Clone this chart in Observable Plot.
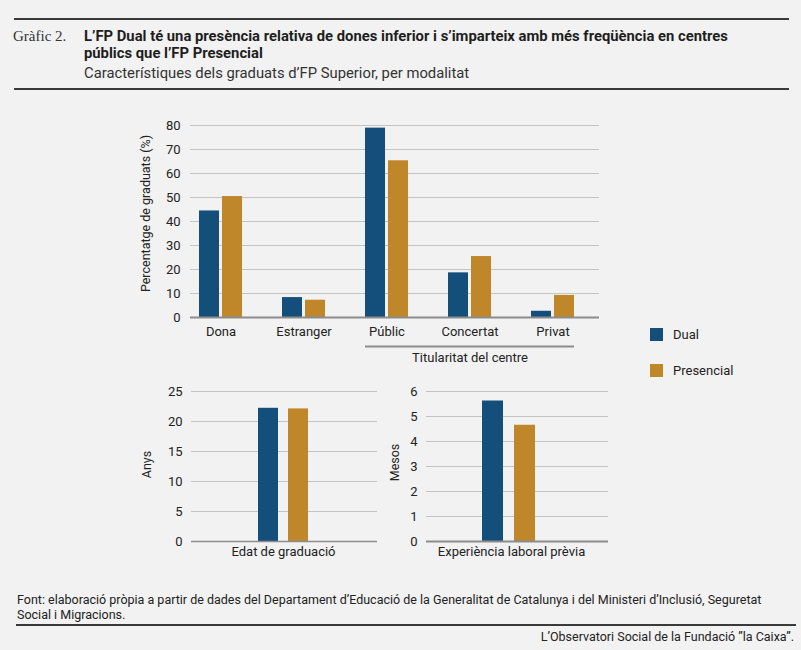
<!DOCTYPE html>
<html><head><meta charset="utf-8">
<script src="https://cdn.jsdelivr.net/npm/d3@7"></script>
<script src="https://cdn.jsdelivr.net/npm/@observablehq/plot@0.6"></script>
<style>
body{margin:0;background:#f2f2f2;}
#root{position:relative;width:801px;height:650px;background:#f2f2f2;font-family:Roboto,"Liberation Sans",sans-serif;color:#222;overflow:hidden}
.abs{position:absolute;white-space:nowrap}
.rule{position:absolute;height:2px;background:#3a3a3a}
svg{overflow:visible}
</style></head><body>
<div id="root">
 <div class="rule" style="left:14px;top:18px;width:775px"></div>
 <div class="abs" style="left:13px;top:28px;line-height:17px;font-family:'Liberation Serif',serif;font-size:15px;color:#333">Gràfic 2.</div>
 <div class="abs" id="title" style="left:84px;top:28px;line-height:16.5px;font-size:14.8px;font-weight:bold;color:#1e1e1e"></div>
 <div class="abs" id="subtitle" style="left:84px;top:64px;line-height:18px;font-size:14.8px;color:#333"></div>
 <div class="rule" style="left:14px;top:88px;width:775px"></div>
 <div id="top" class="abs" style="left:0;top:110px"></div>
 <div id="bl" class="abs" style="left:0;top:370px"></div>
 <div id="br" class="abs" style="left:380px;top:370px"></div>
 <div id="legend"></div>
 <div class="abs" id="source" style="left:17px;top:592px;line-height:15px;font-size:12.5px;color:#222"></div>
 <div class="rule" style="left:16px;top:624px;width:780px"></div>
 <div class="abs" id="credit" style="right:7px;top:629px;line-height:16px;font-size:12.5px;color:#222"></div>
</div>
<script>
// ---- Text ----
const titleLines = ["L’FP Dual té una presència relativa de dones inferior i s’imparteix amb més freqüència en centres", "públics que l’FP Presencial"];
const subtitle = "Característiques dels graduats d’FP Superior, per modalitat";
const sourceLines = ["Font: elaboració pròpia a partir de dades del Departament d’Educació de la Generalitat de Catalunya i del Ministeri d’Inclusió, Seguretat", "Social i Migracions."];
const credit = "L’Observatori Social de la Fundació ”la Caixa”.";

// ---- Data ----
const modalities = ["Dual", "Presencial"];
const modalityColors = ["#134f7a", "#c0862a"];

const topCategories = ["Dona", "Estranger", "Públic", "Concertat", "Privat"];
const topDual = [44.4, 8.3, 78.9, 18.6, 2.6];
const topPresencial = [50.4, 7.2, 65.3, 25.4, 9.2];
const topTicks = [0, 10, 20, 30, 40, 50, 60, 70, 80];
const topYLabel = "Percentatge de graduats (%)";
const topGroups = [{label: "Titularitat del centre", from: "Públic", to: "Privat", mid: "Concertat"}];

const ageValues = [22.2, 22.1];
const ageTicks = [0, 5, 10, 15, 20, 25];
const ageYLabel = "Anys";
const ageXLabel = "Edat de graduació";

const expValues = [5.62, 4.65];
const expTicks = [0, 1, 2, 3, 4, 5, 6];
const expYLabel = "Mesos";
const expXLabel = "Experiència laboral prèvia";

// ---- Header / footer ----
document.getElementById("title").innerHTML = titleLines.join("<br>");
document.getElementById("subtitle").textContent = subtitle;
document.getElementById("source").innerHTML = sourceLines.join("<br>");
document.getElementById("credit").textContent = credit;

const font = "Roboto, 'Liberation Sans', sans-serif";
const gridColor = "#c4c4c4";
const baseColor = "#8c8c8c";
const intFormat = d3.format("d");

// ---- Top chart ----
const topData = [];
topCategories.forEach((c, i) => {
  topData.push({cat: c, mod: modalities[0], value: topDual[i]});
  topData.push({cat: c, mod: modalities[1], value: topPresencial[i]});
});

const topChart = Plot.plot({
  width: 620, height: 260,
  marginLeft: 190, marginRight: 21, marginTop: 15, marginBottom: 53,
  style: {background: "transparent", fontFamily: font, fontSize: "13px", color: "#222"},
  x: {domain: topCategories, range: [197, 577], paddingInner: 0.476, paddingOuter: 0, axis: null},
  y: {domain: [0, 80], axis: null},
  color: {domain: modalities, range: modalityColors},
  marks: [
    Plot.gridY({ticks: topTicks, stroke: gridColor, strokeOpacity: 1}),
    Plot.barY(topData.filter(d => d.mod === modalities[0]), {x: "cat", y: "value", fill: "mod", insetRight: 23}),
    Plot.barY(topData.filter(d => d.mod === modalities[1]), {x: "cat", y: "value", fill: "mod", insetLeft: 23}),
    Plot.ruleY([0], {stroke: baseColor, strokeWidth: 2}),
    Plot.axisY({ticks: topTicks, tickFormat: intFormat, tickSize: 0, tickPadding: 10, fontSize: 13, label: null}),
    Plot.axisX({tickSize: 0, tickPadding: 9, fontSize: 13, label: null}),
    Plot.ruleY(topGroups, {x1: "from", x2: "to", y: () => 0, dy: 29, stroke: baseColor, strokeWidth: 2}),
    Plot.text(topGroups, {x: "mid", y: () => 0, dy: 40, text: "label", fontSize: 13}),
    Plot.text([topYLabel], {frameAnchor: "left", textAnchor: "middle", rotate: -90, dx: -45, dy: -8, text: d => d, fontSize: 12.5})
  ]
});
document.getElementById("top").appendChild(topChart);

// ---- Bottom charts ----
function smallChart({values, ticks, yLabel, xLabel, width, marginLeft, marginRight, xRange, padding, labelDx, labelDy, xLabelDx, baseWidth}) {
  const data = modalities.map((m, i) => ({mod: m, value: values[i]}));
  return Plot.plot({
    width, height: 200,
    marginLeft, marginRight, marginTop: 21, marginBottom: 29,
    style: {background: "transparent", fontFamily: font, fontSize: "13px", color: "#222"},
    x: {domain: modalities, range: xRange, padding, axis: null},
    y: {domain: [0, ticks[ticks.length - 1]], axis: null},
    color: {domain: modalities, range: modalityColors},
    marks: [
      Plot.gridY({ticks, stroke: gridColor, strokeOpacity: 1}),
      Plot.barY(data, {x: "mod", y: "value", fill: "mod"}),
      Plot.ruleY([0], {stroke: baseColor, strokeWidth: baseWidth}),
      Plot.axisY({ticks, tickFormat: intFormat, tickSize: 0, tickPadding: 9, fontSize: 13, label: null}),
      Plot.text([xLabel], {frameAnchor: "bottom", dy: 14, dx: xLabelDx, text: d => d, fontSize: 13}),
      Plot.text([yLabel], {frameAnchor: "left", textAnchor: "middle", rotate: -90, dx: labelDx, dy: labelDy, text: d => d, fontSize: 12.5})
    ]
  });
}

document.getElementById("bl").appendChild(smallChart({
  values: ageValues, ticks: ageTicks, yLabel: ageYLabel, xLabel: ageXLabel,
  width: 400, marginLeft: 191, marginRight: 23, xRange: [246.8, 319.3], padding: 0.34,
  labelDx: -45, labelDy: -2, xLabelDx: -1, baseWidth: 1.5
}));
document.getElementById("br").appendChild(smallChart({
  values: expValues, ticks: expTicks, yLabel: expYLabel, xLabel: expXLabel,
  width: 240, marginLeft: 46, marginRight: 12, xRange: [91.7, 166.3], padding: 0.33,
  labelDx: -32, labelDy: -4, xLabelDx: -6, baseWidth: 2
}));

// ---- Legend ----
const legend = document.getElementById("legend");
const legendTops = [328, 364];
modalities.forEach((m, i) => {
  const sw = document.createElement("div");
  sw.className = "abs";
  sw.style.cssText = `left:650px;top:${legendTops[i]}px;width:13px;height:13px;background:${modalityColors[i]}`;
  legend.appendChild(sw);
  const tx = document.createElement("div");
  tx.className = "abs";
  tx.style.cssText = `left:673px;top:${legendTops[i] - 2}px;line-height:17px;font-size:13px;color:#222`;
  tx.textContent = m;
  legend.appendChild(tx);
});
</script>
</body></html>
